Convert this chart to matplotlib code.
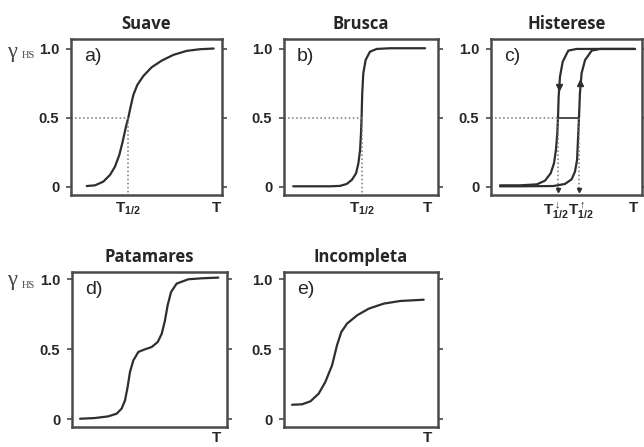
import matplotlib
matplotlib.use("Agg")
import matplotlib.pyplot as plt

plt.rcParams['mathtext.fontset'] = 'custom'
plt.rcParams['mathtext.rm'] = 'Liberation Sans:bold'
plt.rcParams['mathtext.bf'] = 'Liberation Sans:bold'
plt.rcParams['mathtext.it'] = 'Liberation Sans:bold'

# ---------------- data ----------------
titles = ["Suave", "Brusca", "Histerese", "Patamares", "Incompleta"]
letters = ["a)", "b)", "c)", "d)", "e)"]
yticks = [0, 0.5, 1.0]
ytick_labels = ["0", "0.5", "1.0"]

# a) smooth
a_x = [0.104, 0.159, 0.214, 0.258, 0.291, 0.32, 0.342, 0.364, 0.38, 0.395, 0.413,
       0.439, 0.479, 0.534, 0.60, 0.678, 0.766, 0.854, 0.945]
a_y = [0.007, 0.012, 0.039, 0.087, 0.147, 0.232, 0.328, 0.437, 0.505, 0.582, 0.667,
       0.739, 0.804, 0.867, 0.915, 0.957, 0.986, 0.998, 1.003]
a_thalf = 0.38

# b) abrupt
b_x = [0.06, 0.20, 0.30, 0.364, 0.407, 0.44, 0.468, 0.483, 0.494, 0.50, 0.504, 0.508,
       0.515, 0.53, 0.558, 0.602, 0.688, 0.916]
b_y = [0.005, 0.005, 0.005, 0.008, 0.022, 0.051, 0.099, 0.171, 0.268, 0.389, 0.51, 0.679,
       0.824, 0.92, 0.98, 1.0, 1.005, 1.005]
b_thalf = 0.504

# c) hysteresis: cooling (down) and heating (up) branches
c_down_x = [0.06, 0.192, 0.303, 0.358, 0.395, 0.417, 0.43, 0.439, 0.444, 0.448, 0.457,
            0.475, 0.512, 0.567, 0.954]
c_down_y = [0.012, 0.012, 0.019, 0.046, 0.099, 0.171, 0.268, 0.389, 0.51, 0.655, 0.80,
            0.908, 0.988, 1.0, 1.0]
c_up_x = [0.06, 0.20, 0.413, 0.49, 0.534, 0.556, 0.57, 0.576, 0.583, 0.589, 0.60,
          0.623, 0.667, 0.722, 0.954]
c_up_y = [0.005, 0.005, 0.007, 0.022, 0.056, 0.111, 0.196, 0.34, 0.51, 0.679, 0.824,
          0.92, 0.988, 1.0, 1.0]
c_thalf_down = 0.442
c_thalf_up = 0.583

# d) steps
d_x = [0.052, 0.148, 0.234, 0.288, 0.32, 0.342, 0.359, 0.374, 0.396, 0.428, 0.471,
       0.514, 0.553, 0.579, 0.60, 0.617, 0.639, 0.675, 0.75, 0.837, 0.944]
d_y = [0.002, 0.007, 0.019, 0.038, 0.074, 0.133, 0.229, 0.336, 0.419, 0.479, 0.498,
       0.514, 0.55, 0.609, 0.705, 0.812, 0.907, 0.967, 0.998, 1.005, 1.01]

# e) incomplete
e_x = [0.052, 0.117, 0.171, 0.225, 0.268, 0.312, 0.344, 0.372, 0.409, 0.474, 0.55,
       0.647, 0.755, 0.907]
e_y = [0.102, 0.105, 0.126, 0.181, 0.264, 0.383, 0.526, 0.621, 0.681, 0.74, 0.788,
       0.824, 0.843, 0.852]

# ---------------- styling ----------------
W, H = 644, 447
fig = plt.figure(figsize=(W / 100, H / 100), dpi=100)
fig.patch.set_facecolor('white')

spine_c = '#4a4a4a'
line_c = '#2e2e2e'
dot_c = '#777777'
text_c = '#262626'

def px_axes(l, t, r, b):
    return fig.add_axes([l / W, (H - b) / H, (r - l) / W, (b - t) / H])

boxes = [(71, 39, 222, 195), (284, 39, 438, 195), (491, 39, 642, 195),
         (72, 272, 227, 427), (284, 272, 438, 427)]
ylims = [(-0.058, 1.072)] * 3 + [(-0.057, 1.05)] * 2

axes = []
for i, bx in enumerate(boxes):
    ax = px_axes(*bx)
    ax.set_xlim(0, 1)
    ax.set_ylim(*ylims[i])
    for s in ax.spines.values():
        s.set_color(spine_c)
        s.set_linewidth(1.8)
    ax.set_yticks(yticks)
    ax.set_yticklabels(ytick_labels, fontfamily='Liberation Sans', fontweight='bold',
                       fontsize=10.5, color=text_c)
    ax.tick_params(axis='y', which='both', direction='out', length=3.5, width=1.2,
                   color=spine_c, left=True, right=True, pad=5)
    ax.tick_params(axis='x', length=0, pad=4 if i < 3 else 3)
    ax.set_title(titles[i], fontfamily='Open Sans', fontweight='bold', fontsize=12,
                 color=text_c, pad=7)
    ax.text(0.085, 0.89, letters[i], transform=ax.transAxes, fontfamily='Liberation Sans',
            fontsize=14, color=text_c, va='center', ha='left')
    axes.append(ax)

ax_a, ax_b, ax_c, ax_d, ax_e = axes
lab_kw = dict(fontsize=11, color=text_c)
curve_kw = dict(color=line_c, lw=1.6, solid_joinstyle='round', solid_capstyle='round')

# a
ax_a.plot(a_x, a_y, **curve_kw)
ax_a.plot([0, a_thalf], [0.5, 0.5], ls=':', color=dot_c, lw=1.1)
ax_a.plot([a_thalf, a_thalf], [0.5, -0.058], ls=':', color=dot_c, lw=1.1)
ax_a.set_xticks([a_thalf, 0.965])
ax_a.set_xticklabels([r'$\mathbf{T}_{1/2}$', 'T'], fontfamily='Liberation Sans',
                     fontweight='bold', **lab_kw)

# b
ax_b.plot(b_x, b_y, **curve_kw)
ax_b.plot([0, b_thalf], [0.5, 0.5], ls=':', color=dot_c, lw=1.1)
ax_b.plot([b_thalf, b_thalf], [0.5, -0.058], ls=':', color=dot_c, lw=1.1)
ax_b.set_xticks([b_thalf, 0.93])
ax_b.set_xticklabels([r'$\mathbf{T}_{1/2}$', 'T'], fontfamily='Liberation Sans',
                     fontweight='bold', **lab_kw)

# c
ax_c.plot(c_down_x, c_down_y, **curve_kw)
ax_c.plot(c_up_x, c_up_y, **curve_kw)
ax_c.plot([0, c_thalf_down], [0.5, 0.5], ls=':', color=dot_c, lw=1.1)
ax_c.plot([c_thalf_down, c_thalf_up], [0.5, 0.5], ls='-', color=line_c, lw=1.2)
ax_c.plot([c_thalf_down, c_thalf_down], [0.5, -0.03], ls=':', color=dot_c, lw=1.1)
ax_c.plot([c_thalf_up, c_thalf_up], [0.5, -0.03], ls=':', color=dot_c, lw=1.1)
ax_c.plot([c_thalf_down, c_thalf_up], [-0.025, -0.025], ls='none', marker='v',
          ms=3, color=line_c)
ax_c.plot([0.453], [0.727], marker='v', ms=5, color=line_c)
ax_c.plot([0.592], [0.75], marker='^', ms=5, color=line_c)
ax_c.set_xticks([c_thalf_down - 0.01, c_thalf_up + 0.01, 0.947])
ax_c.set_xticklabels([r'$\mathbf{T}_{1/2}^{\downarrow}$', r'$\mathbf{T}_{1/2}^{\uparrow}$',
                      'T'], fontfamily='Liberation Sans', fontweight='bold', **lab_kw)

# d
ax_d.plot(d_x, d_y, **curve_kw)
ax_d.set_xticks([0.93])
ax_d.set_xticklabels(['T'], fontfamily='Liberation Sans', fontweight='bold', **lab_kw)

# e
ax_e.plot(e_x, e_y, **curve_kw)
ax_e.set_xticks([0.935])
ax_e.set_xticklabels(['T'], fontfamily='Liberation Sans', fontweight='bold', **lab_kw)

# gamma_HS labels
for yc in (52, 281):
    fig.text(7 / W, 1 - yc / H, 'γ', fontfamily='Liberation Serif',
             fontsize=16, color='#444444', va='center', ha='left')
    fig.text(22 / W, 1 - (yc + 4) / H, 'HS', fontfamily='Liberation Serif', fontsize=7.5,
             color='#444444', va='center', ha='left')

fig.savefig('out.png', dpi=100, facecolor='white')
